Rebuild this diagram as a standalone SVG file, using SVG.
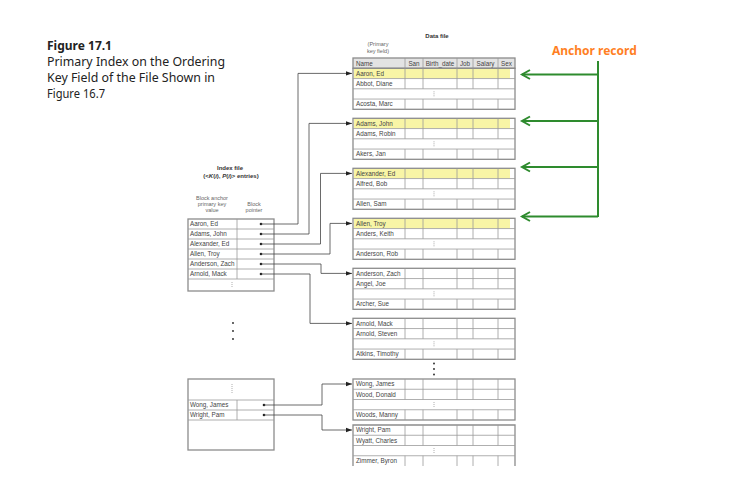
<svg xmlns="http://www.w3.org/2000/svg" xmlns:xlink="http://www.w3.org/1999/xlink" width="751" height="501" viewBox="0 0 751 501">
<style>
.title{font-family:"Noto Sans","Open Sans",sans-serif;font-size:12.2px;fill:#222}
.tb{font-weight:bold}
.anchor{font-family:"Noto Sans","Open Sans",sans-serif;font-size:12px;font-weight:bold;fill:#ff7f24}
.sm{font-family:"Liberation Sans",Arial,sans-serif;font-size:6.3px;fill:#444}
.smb{font-family:"Liberation Sans",Arial,sans-serif;font-size:6px;font-weight:bold;fill:#333}
.lab{font-family:"Liberation Sans",Arial,sans-serif;font-size:5.5px;fill:#666}
.outer{fill:none;stroke:#8c8c8c;stroke-width:1.3}
.inner{fill:none;stroke:#9a9a9a;stroke-width:0.8}
.hl{fill:#f8f5a6}
.hdr{fill:#e3e3e3}
.conn{fill:none;stroke:#444;stroke-width:0.8}
.green{fill:none;stroke:#2e8b2e;stroke-width:2}
.ell{fill:none;stroke:#999;stroke-width:0.8;stroke-dasharray:1,1}
.dot{fill:#222}
</style>
<defs>
<marker id="ah" markerUnits="userSpaceOnUse" markerWidth="8" markerHeight="6" refX="6" refY="3" orient="auto">
<path d="M0,0.8 L6,3 L0,5.2 Z" fill="#222"/>
</marker>
<marker id="gh" markerUnits="userSpaceOnUse" markerWidth="12" markerHeight="12" refX="10" refY="6" orient="auto" overflow="visible">
<path d="M2,1.5 L10,6 L2,10.5" fill="none" stroke="#2e8b2e" stroke-width="2"/>
</marker>
<g id="grid">
<rect x="353" y="0" width="162" height="41" class="outer"/>
<path class="inner" d="M353,10.25H515M353,20.5H515M353,30.75H515M405,0V20.5M423,0V20.5M457,0V20.5M473,0V20.5M498,0V20.5M405,30.75V41M423,30.75V41M457,30.75V41M473,30.75V41M498,30.75V41"/>
<path class="ell" d="M434,23V28.5"/>
</g>
<rect id="hlrow" x="354" y="0.6" width="156" height="9.4" class="hl"/>
</defs>

<g id="title">
<text class="title tb" x="47" y="49.5" textLength="65" lengthAdjust="spacingAndGlyphs">Figure 17.1</text>
<text class="title" x="47" y="65.5" textLength="178" lengthAdjust="spacingAndGlyphs">Primary Index on the Ordering</text>
<text class="title" x="47" y="81.5" textLength="168" lengthAdjust="spacingAndGlyphs">Key Field of the File Shown in</text>
<text class="title" x="47" y="97.5" textLength="58" lengthAdjust="spacingAndGlyphs">Figure 16.7</text>
</g>

<g id="datafile-labels">
<text class="smb" x="437" y="38" text-anchor="middle">Data file</text>
<text class="lab" x="378" y="46" text-anchor="middle">(Primary</text>
<text class="lab" x="378" y="53" text-anchor="middle">key field)</text>
</g>

<g id="header">
<rect x="353" y="58" width="162" height="10.3" class="hdr"/>
<rect x="353" y="58" width="162" height="10.3" class="outer"/>
<path class="inner" d="M405,58V68.3M423,58V68.3M457,58V68.3M473,58V68.3M498,58V68.3"/>
<text class="sm" x="356" y="65.5">Name</text>
<text class="sm" x="414" y="65.5" text-anchor="middle">San</text>
<text class="sm" x="440" y="65.5" text-anchor="middle">Birth_date</text>
<text class="sm" x="465" y="65.5" text-anchor="middle">Job</text>
<text class="sm" x="485.5" y="65.5" text-anchor="middle">Salary</text>
<text class="sm" x="506.5" y="65.5" text-anchor="middle">Sex</text>
</g>

<g id="block1" transform="translate(0,68.3)">
<use xlink:href="#hlrow"/><use xlink:href="#grid"/>
<text class="sm" x="356" y="7.3">Aaron, Ed</text>
<text class="sm" x="356" y="17.5">Abbot, Diane</text>
<text class="sm" x="356" y="38">Acosta, Marc</text>
</g>
<g id="block2" transform="translate(0,118.3)">
<use xlink:href="#hlrow"/><use xlink:href="#grid"/>
<text class="sm" x="356" y="7.3">Adams, John</text>
<text class="sm" x="356" y="17.5">Adams, Robin</text>
<text class="sm" x="356" y="38">Akers, Jan</text>
</g>
<g id="block3" transform="translate(0,168.3)">
<use xlink:href="#hlrow"/><use xlink:href="#grid"/>
<text class="sm" x="356" y="7.3">Alexander, Ed</text>
<text class="sm" x="356" y="17.5">Alfred, Bob</text>
<text class="sm" x="356" y="38">Allen, Sam</text>
</g>
<g id="block4" transform="translate(0,218.3)">
<use xlink:href="#hlrow"/><use xlink:href="#grid"/>
<text class="sm" x="356" y="7.3">Allen, Troy</text>
<text class="sm" x="356" y="17.5">Anders, Keith</text>
<text class="sm" x="356" y="38">Anderson, Rob</text>
</g>
<g id="block5" transform="translate(0,268.3)">
<use xlink:href="#grid"/>
<text class="sm" x="356" y="7.3">Anderson, Zach</text>
<text class="sm" x="356" y="17.5">Angel, Joe</text>
<text class="sm" x="356" y="38">Archer, Sue</text>
</g>
<g id="block6" transform="translate(0,318.3)">
<use xlink:href="#grid"/>
<text class="sm" x="356" y="7.3">Arnold, Mack</text>
<text class="sm" x="356" y="17.5">Arnold, Steven</text>
<text class="sm" x="356" y="38">Atkins, Timothy</text>
</g>
<g id="vdots-data">
<circle cx="434" cy="363.5" r="0.9" class="dot"/>
<circle cx="434" cy="369" r="0.9" class="dot"/>
<circle cx="434" cy="374.5" r="0.9" class="dot"/>
</g>
<g id="block7" transform="translate(0,379)">
<use xlink:href="#grid"/>
<text class="sm" x="356" y="7.3">Wong, James</text>
<text class="sm" x="356" y="17.5">Wood, Donald</text>
<text class="sm" x="356" y="38">Woods, Manny</text>
</g>
<g id="block8" transform="translate(0,425)">
<path class="outer" d="M353,41V0H515V41"/>
<path class="inner" d="M353,10.25H515M353,20.5H515M353,30.75H515M405,0V20.5M423,0V20.5M457,0V20.5M473,0V20.5M498,0V20.5M405,30.75V41M423,30.75V41M457,30.75V41M473,30.75V41M498,30.75V41"/>
<path class="ell" d="M434,23V28.5"/>
<text class="sm" x="356" y="7.3">Wright, Pam</text>
<text class="sm" x="356" y="17.5">Wyatt, Charles</text>
<text class="sm" x="356" y="38">Zimmer, Byron</text>
</g>

<g id="index-labels">
<text class="smb" x="230" y="170" text-anchor="middle">Index file</text>
<text class="smb" x="231" y="178" text-anchor="middle">(&lt;<tspan font-style="italic">K</tspan>(<tspan font-style="italic">i</tspan>), <tspan font-style="italic">P</tspan>(<tspan font-style="italic">i</tspan>)&gt; entries)</text>
<text class="lab" x="212" y="200" text-anchor="middle">Block anchor</text>
<text class="lab" x="212" y="206" text-anchor="middle">primary key</text>
<text class="lab" x="212" y="212" text-anchor="middle">value</text>
<text class="lab" x="254" y="206" text-anchor="middle">Block</text>
<text class="lab" x="254" y="212" text-anchor="middle">pointer</text>
</g>

<g id="index1">
<rect x="188" y="219" width="86" height="72" class="outer"/>
<path class="inner" d="M188,229H274M188,239H274M188,249H274M188,259H274M188,269H274M188,279H274M237,219V279"/>
<path class="ell" d="M232,282V288"/>
<text class="sm" x="190" y="226.2">Aaron, Ed</text>
<text class="sm" x="190" y="236.2">Adams, John</text>
<text class="sm" x="190" y="246.2">Alexander, Ed</text>
<text class="sm" x="190" y="256.2">Allen, Troy</text>
<text class="sm" x="190" y="266.2">Anderson, Zach</text>
<text class="sm" x="190" y="276.2">Arnold, Mack</text>
<circle cx="261" cy="224" r="1.3" class="dot"/>
<circle cx="261" cy="234" r="1.3" class="dot"/>
<circle cx="261" cy="244" r="1.3" class="dot"/>
<circle cx="261" cy="254" r="1.3" class="dot"/>
<circle cx="261" cy="264" r="1.3" class="dot"/>
<circle cx="261" cy="274" r="1.3" class="dot"/>
</g>

<g id="vdots-index">
<circle cx="233" cy="323" r="0.9" class="dot"/>
<circle cx="233" cy="331" r="0.9" class="dot"/>
<circle cx="233" cy="339" r="0.9" class="dot"/>
</g>

<g id="index2">
<rect x="188" y="379" width="86" height="71" class="outer"/>
<path class="inner" d="M188,400H274M188,410H274M188,420H274M237,400V420"/>
<path class="ell" d="M232,384V393"/>
<text class="sm" x="190" y="407.2">Wong, James</text>
<text class="sm" x="190" y="417.2">Wright, Pam</text>
<circle cx="264" cy="405" r="1.3" class="dot"/>
<circle cx="264" cy="415" r="1.3" class="dot"/>
</g>

<g id="connectors">
<path class="conn" marker-end="url(#ah)" d="M261,224H298V73.4H352"/>
<path class="conn" marker-end="url(#ah)" d="M261,234H309V123.4H352"/>
<path class="conn" marker-end="url(#ah)" d="M261,244H320.5V173.4H352"/>
<path class="conn" marker-end="url(#ah)" d="M261,254H330V223.4H352"/>
<path class="conn" marker-end="url(#ah)" d="M261,264H321V273.4H352"/>
<path class="conn" marker-end="url(#ah)" d="M261,274H310V323.4H352"/>
<path class="conn" marker-end="url(#ah)" d="M264,405H322V384H352"/>
<path class="conn" marker-end="url(#ah)" d="M264,415H322V430H352"/>
<path class="green" d="M598,61V217"/>
<path class="green" marker-end="url(#gh)" d="M598,74.5H522"/>
<path class="green" marker-end="url(#gh)" d="M598,121H522"/>
<path class="green" marker-end="url(#gh)" d="M598,167H522"/>
<path class="green" marker-end="url(#gh)" d="M598,216.5H522"/>
</g>

<g id="anchor-label">
<text class="anchor" x="552" y="55">Anchor record</text>
</g>
</svg>
